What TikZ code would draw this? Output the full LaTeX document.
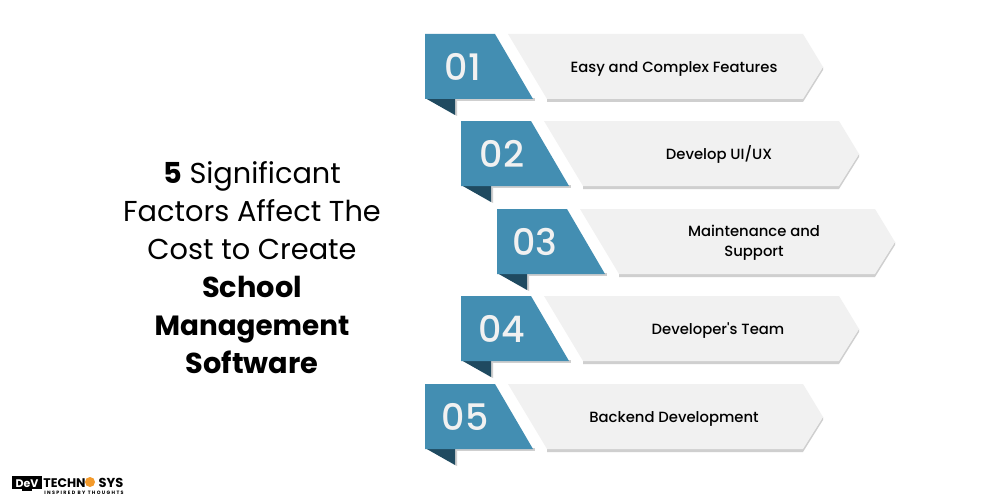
\documentclass[tikz,border=0pt]{standalone}
\usepackage{fontspec}
\setmainfont{Poppins}
\newfontfamily\medfont{Poppins Medium}
\definecolor{tagblue}{HTML}{438EB2}
\definecolor{tagdark}{HTML}{1F4A60}
\definecolor{bargrey}{HTML}{F1F1F1}
\definecolor{barshade}{HTML}{CFCFCF}
\definecolor{logoorange}{HTML}{F39A2B}
\tikzset{
    titleline/.style={anchor=center, inner sep=0pt, execute at begin node=\strut, font=\fontsize{28.8}{36}\selectfont, text=black},
    tagnum/.style={anchor=center, inner sep=0pt, execute at begin node=\strut, font=\medfont\fontsize{36.5}{40}\selectfont, text=bargrey},
    barlabel/.style={anchor=center, inner sep=0pt, align=center, execute at begin node=\strut, font=\medfont\fontsize{14.8}{20}\selectfont, text=black},
    logotext/.style={anchor=base, inner sep=0pt, font=\bfseries\fontsize{12.5}{13}\selectfont, text=black},
}
\begin{document}
\begin{tikzpicture}[x=1pt,y=-1pt]
    \useasboundingbox (0,0) rectangle (1000,500);
    \fill [white] (0,0) rectangle (1000,500);
    % title
    \node [titleline] (title1) at (252,176) {\textbf{5} Significant};
    \node [titleline] (title2) at (252,214) {Factors Affect The};
    \node [titleline] (title3) at (252,252) {Cost to Create};
    \node [titleline] (title4) at (252,290) {\textbf{School}};
    \node [titleline, font=\fontsize{27.8}{36}\selectfont] (title5) at (252,328) {\textbf{Management}};
    \node [titleline] (title6) at (252,366) {\textbf{Software}};
    % rows
    \foreach \name/\xa/\ya/\numx/\labx/\num/\lab in {
        one/425/34/38/249/01/{Easy and Complex Features},
        two/461/121/41/258/02/{Develop UI/UX},
        three/497/209/38/257/03/{Maintenance and\\\strut Support},
        four/461/296/41/257/04/{Developer's Team},
        five/425/384/40/249/05/{Backend Development}}{
    \begin{scope}[shift={(\xa,\ya)}]
        \fill [barshade] (122,64) -- (378,64) -- (398,33) -- (398,36) -- (378,68) -- (122,68) -- cycle;
        \fill [bargrey] (83,0) -- (378,0) -- (398,33) -- (378,65) -- (122,65) -- cycle;
        \fill [barshade] (30,64) -- (32,64) -- (32,82) -- (30,81) -- cycle;
        \fill [barshade] (30,64) rectangle (110,67);
        \fill [tagdark] (0,64) -- (30,64) -- (30,81) -- cycle;
        \fill [tagblue] (0,0) -- (70,0) -- (108,65) -- (0,65) -- cycle;
        \node [tagnum] (num\name) at (\numx,38.5) {\num};
        \node [barlabel] (lab\name) at (\labx,34.5) {\lab};
    \end{scope}
    }
    % logo
    \fill [black] (12,476) rectangle (42,489);
    \fill [black] (22,489) rectangle (32,491);
    \node [logotext, text=white, font=\bfseries\fontsize{11}{13}\selectfont] (logodev) at (27,487) {DeV};
    \node [logotext] (logotech) at (64.5,487) {TECHN};
    \fill [logoorange] (90,482) circle (5);
    \node [logotext, font=\bfseries\fontsize{13}{14}\selectfont] (logosys) at (111,487) {SYS};
    \node [logotext, font=\bfseries\fontsize{4.8}{6}\selectfont\addfontfeature{LetterSpace=28}] (logosub) at (84,494) {INSPIRED BY THOUGHTS};
\end{tikzpicture}
\end{document}
